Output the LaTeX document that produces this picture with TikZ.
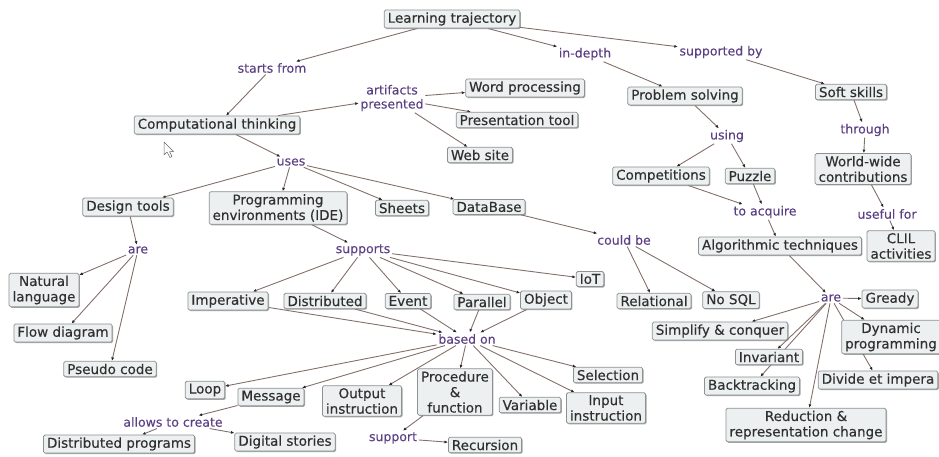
\documentclass[tikz,border=0pt]{standalone}
\usepackage{fontspec}
\setmainfont{DejaVu Sans}
\newfontfamily\conceptfont{DejaVu Sans}[FakeBold=0.25]
\newfontfamily\phrasefont{DejaVu Sans}[FakeBold=0.15]
\usetikzlibrary{arrows.meta,shadows,backgrounds}

\definecolor{conceptfill}{RGB}{236,240,240}
\definecolor{conceptborder}{RGB}{140,145,145}
\definecolor{conceptink}{RGB}{48,48,48}
\definecolor{phraseink}{RGB}{92,64,132}
\definecolor{linkcolor}{RGB}{132,112,106}

\begin{document}
\begin{tikzpicture}[x=1pt,y=-1pt,
  concept/.style={draw=conceptborder, fill=conceptfill, rounded corners=1.5pt,
    line width=0.75pt, inner xsep=3.5pt, inner ysep=2.5pt, align=center,
    font=\conceptfont\fontsize{13.5}{15.5}\selectfont, text=conceptink,
    drop shadow={shadow xshift=1pt, shadow yshift=-1pt, fill=black!55, opacity=0.65}},
  phrase/.style={inner sep=1.5pt, align=center,
    font=\phrasefont\fontsize{12.5}{14}\selectfont, text=phraseink},
  link/.style={draw=linkcolor, line width=0.9pt,
    -{Latex[length=3.5pt,width=3pt,color=black!85]}},
]
\useasboundingbox (0,0) rectangle (939,456);

% top level
\node[concept] (lt) at (452,19) {Learning trajectory};
\node[phrase] (startsfrom) at (272,68) {starts from};
\node[phrase] (indepth) at (585,54) {in-depth};
\node[phrase] (suppby) at (721,52) {supported by};

% computational thinking branch
\node[concept] (ct) at (217,125) {Computational thinking};
\node[phrase] (artifacts) at (392,98) {artifacts\\presented};
\node[concept] (word) at (525,88) {Word processing};
\node[concept] (pres) at (517,120) {Presentation tool};
\node[concept] (web) at (480,155) {Web site};
\node[phrase] (uses) at (291,162) {uses};
\node[concept] (design) at (128,207) {Design tools};
\node[concept] (ide) at (278,208) {Programming\\environments (IDE)};
\node[concept] (sheets) at (402,208) {Sheets};
\node[concept] (db) at (489,207) {DataBase};

% design tools
\node[phrase] (are1) at (138,250) {are};
\node[concept] (natural) at (44,290) {Natural\\language};
\node[concept] (flow) at (63,333) {Flow diagram};
\node[concept] (pseudo) at (110,369) {Pseudo code};

% programming paradigms
\node[phrase] (supports) at (363,250) {supports};
\node[concept] (imp) at (228,301) {Imperative};
\node[concept] (dist) at (325,301) {Distributed};
\node[concept] (event) at (408,301) {Event};
\node[concept] (parallel) at (482,302) {Parallel};
\node[concept] (object) at (546,300) {Object};
\node[concept] (iot) at (590,279) {IoT};
\node[phrase] (basedon) at (467,339) {based on};
\node[concept] (loop) at (205,390) {Loop};
\node[concept] (msg) at (271,397) {Message};
\node[concept] (output) at (362,401) {Output\\instruction};
\node[concept] (proc) at (455,392) {Procedure\\\&\\function};
\node[concept] (var) at (530,405) {Variable};
\node[concept] (sel) at (608,375) {Selection};
\node[concept] (input) at (606,408) {Input\\instruction};
\node[phrase] (allows) at (173,422) {allows to create};
\node[concept] (distprog) at (119,444) {Distributed programs};
\node[concept] (stories) at (285,442) {Digital stories};
\node[phrase] (support) at (393,438) {support};
\node[concept] (rec) at (485,445) {Recursion};

% databases
\node[phrase] (couldbe) at (624,240) {could be};
\node[concept] (rel) at (654,301) {Relational};
\node[concept] (nosql) at (731,300) {No SQL};

% problem solving branch
\node[concept] (ps) at (685,96) {Problem solving};
\node[phrase] (using) at (727,136) {using};
\node[concept] (comp) at (661,176) {Competitions};
\node[concept] (puzzle) at (750,176) {Puzzle};
\node[phrase] (acquire) at (765,212) {to acquire};
\node[concept] (algo) at (780,246) {Algorithmic techniques};
\node[phrase] (are2) at (831,298) {are};
\node[concept] (gready) at (890,299) {Gready};
\node[concept] (simplify) at (720,331) {Simplify \& conquer};
\node[concept] (dyn) at (891,337) {Dynamic\\programming};
\node[concept] (inv) at (769,357) {Invariant};
\node[concept] (back) at (752,386) {Backtracking};
\node[concept] (divide) at (878,380) {Divide et impera};
\node[concept] (red) at (806,425) {Reduction \&\\representation change};

% soft skills branch
\node[concept] (soft) at (851,92) {Soft skills};
\node[phrase] (through) at (865,130) {through};
\node[concept] (world) at (863,169) {World-wide\\contributions};
\node[phrase] (useful) at (887,214) {useful for};
\node[concept] (clil) at (901,246) {CLIL\\activities};

% mouse pointer
\draw[fill=white, draw=black!60, line width=0.5pt, line join=round]
  (164,142) -- (164,155) -- (167,152) -- (170,157.5) -- (172,156.5)
  -- (169.5,151.5) -- (173.5,151.5) -- cycle;

\begin{scope}[on background layer]
  \draw[link] (lt) -- (startsfrom);
  \draw[link] (startsfrom) -- (ct);
  \draw[link] (lt) -- (indepth);
  \draw[link] (indepth) -- (ps);
  \draw[link] (lt) -- (suppby);
  \draw[link] (suppby) -- (soft);

  \draw[link] (ct) -- (artifacts);
  \foreach \t in {word,pres,web} \draw[link] (artifacts) -- (\t);
  \draw[link] (ct) -- (uses);
  \foreach \t in {design,ide,sheets,db} \draw[link] (uses) -- (\t);

  \draw[link] (design) -- (are1);
  \foreach \t in {natural,flow,pseudo} \draw[link] (are1) -- (\t);

  \draw[link] (ide) -- (supports);
  \foreach \t in {imp,dist,event,parallel,object,iot} \draw[link] (supports) -- (\t);
  \foreach \s in {imp,dist,event,parallel,object} \draw[link] (\s) -- (basedon);
  \foreach \t in {loop,msg,output,proc,var,input,sel} \draw[link] (basedon) -- (\t);
  \draw[link] (msg) -- (allows);
  \foreach \t in {distprog,stories} \draw[link] (allows) -- (\t);
  \draw[link] (proc) -- (support);
  \draw[link] (support) -- (rec);

  \draw[link] (db) -- (couldbe);
  \foreach \t in {rel,nosql} \draw[link] (couldbe) -- (\t);

  \draw[link] (ps) -- (using);
  \foreach \t in {comp,puzzle} \draw[link] (using) -- (\t);
  \foreach \s in {comp,puzzle} \draw[link] (\s) -- (acquire);
  \draw[link] (acquire) -- (algo);
  \draw[link] (algo) -- (are2);
  \foreach \t in {gready,simplify,dyn,inv,back,divide,red} \draw[link] (are2) -- (\t);

  \draw[link] (soft) -- (through);
  \draw[link] (through) -- (world);
  \draw[link] (world) -- (useful);
  \draw[link] (useful) -- (clil);
\end{scope}
\end{tikzpicture}
\end{document}
